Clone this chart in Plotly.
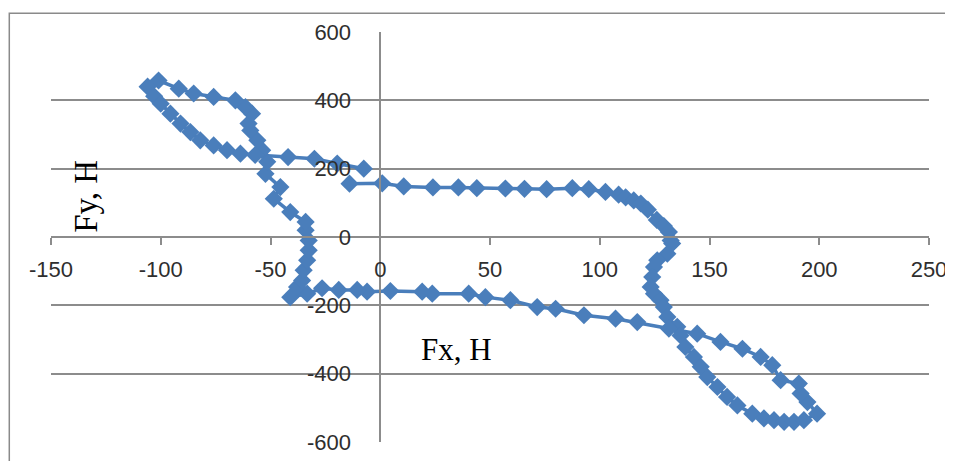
import plotly.graph_objects as go

# Data (path order)
fx = [
    -14, 0.9, 10.7, 24, 35.6, 44, 57, 65.7, 75.8, 87.5, 95, 102.6, 108.6, 111.8, 115.5, 118.7,
    121.9, 126, 129.2, 131.5, 132.3, 133, 130.8, 126.2, 124.7, 123.9, 123.2, 124.7, 127.7, 129.2,
    130.8, 135.3, 136.8, 139, 142.9, 146, 149, 153.6, 158, 162.7, 169.5, 174.8, 179.4, 184,
    188.5, 193, 199, 194.6, 191.5, 190.7, 182.4, 178.6, 173.3, 165, 155, 144.4, 131.5, 117.1,
    107.2, 92.8, 79.9, 71.5, 59.3, 47.9, 40.3, 23.7, 19.1, 4.6, -6, -10.5, -18.9, -26.5, -33.3,
    -41, -37.9, -35.6, -34.9, -33.3, -32.6, -32.6, -34, -34, -41, -48.5, -45.5, -52.3, -51.5,
    -53.8, -56, -59.2, -60, -58.4, -61.4, -66, -75.9, -85, -91.8, -101, -106, -103, -100, -95.6,
    -91, -86.5, -82, -75.9, -69.8, -63.7, -57, -42, -30, -19.6, -7.5,
]
fy = [
    156, 157, 148, 145, 145, 143, 142, 141, 140, 143, 140, 132, 124, 116, 107, 98,
    80, 50, 32, 15, -10, -19, -49, -68, -88, -117, -146, -166, -185, -205,
    -234, -263, -288, -322, -351, -380, -410, -439, -468, -493, -517, -531, -536, -541,
    -541, -536, -517, -483, -458, -429, -419, -375, -351, -327, -307, -283, -268, -249,
    -239, -229, -210, -205, -185, -176, -166, -166, -160, -158, -160, -155, -155, -150, -166,
    -176, -146, -127, -97, -68, -39, -10, 20, 44, 73, 112, 146, 185, 220,
    254, 283, 312, 332, 361, 380, 400, 410, 420, 434, 458, 440, 412, 390, 361,
    332, 307, 283, 268, 254, 244, 240, 234, 229, 215, 200,
]

x_ticks = [-150, -100, -50, 0, 50, 100, 150, 200, 250]
y_ticks = [-600, -400, -200, 0, 200, 400, 600]
x_title = "Fx, H"
y_title = "Fy, H"

BLUE = "#4A7EBB"
GRID = "#8C8C8C"
TICKFONT = dict(family="Liberation Sans, Arial, sans-serif", size=22, color="#2e2e2e")

fig = go.Figure()
fig.add_trace(go.Scatter(
    x=fx, y=fy, mode="lines+markers",
    line=dict(color=BLUE, width=3.5),
    marker=dict(symbol="diamond", size=14, color=BLUE),
    showlegend=False,
))

# page body has an 8px default margin, so the margins are shifted to compensate
fig.update_layout(
    width=953, height=461,
    margin=dict(l=43, r=32, t=24, b=27),
    paper_bgcolor="white", plot_bgcolor="white",
    xaxis=dict(
        range=[-150, 250], tickvals=x_ticks, ticktext=[str(v) for v in x_ticks],
        showgrid=False, zeroline=False,
        showline=True, linecolor=GRID, linewidth=1.5,
        anchor="free", position=0.5,
        ticks="outside", ticklen=7, tickcolor=GRID, tickwidth=1.5,
        ticklabelstandoff=6,
        tickfont=TICKFONT,
    ),
    yaxis=dict(
        range=[-600, 600], tickvals=y_ticks, ticktext=[str(v) for v in y_ticks],
        showgrid=True, gridcolor=GRID, gridwidth=1.5, zeroline=False,
        showline=True, linecolor=GRID, linewidth=1.5,
        anchor="free", position=(0 - (-150)) / 400,
        ticks="", ticklabelstandoff=24,
        tickfont=TICKFONT,
    ),
    annotations=[
        dict(text=x_title, xref="paper", yref="paper", x=0.4623, y=0.226,
             showarrow=False, xanchor="center", yanchor="middle",
             font=dict(family="Liberation Serif, Times New Roman, serif", size=31, color="black")),
        dict(text=y_title, xref="paper", yref="paper", x=0.0399, y=0.598,
             showarrow=False, xanchor="center", yanchor="middle", textangle=-90,
             font=dict(family="Liberation Serif, Times New Roman, serif", size=33, color="black")),
    ],
    shapes=[
        dict(type="rect", xref="paper", yref="paper",
             x0=-0.0475, x1=1.2, y0=-0.3, y1=1.0456,
             line=dict(color="#8a8a8a", width=1.5), layer="below"),
    ],
)

fig.write_html("out.html")
